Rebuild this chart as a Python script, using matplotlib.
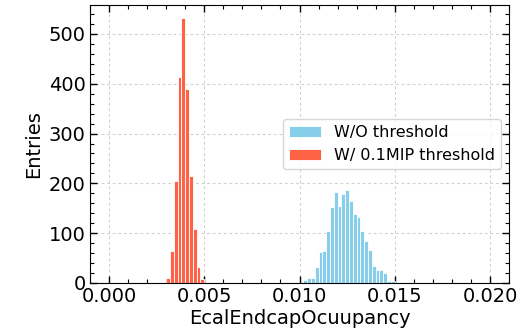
import numpy as np
import matplotlib
matplotlib.use("Agg")
import matplotlib.pyplot as plt
from matplotlib.ticker import MultipleLocator

bin_width = 0.0002

# W/O threshold (blue)
blue_start = 0.0102
blue_counts = [7, 10, 10, 33, 63, 65, 104, 153, 182, 155, 178, 186,
               165, 139, 132, 105, 85, 67, 35, 26, 26, 20, 5, 5]

# W/ 0.1MIP threshold (red)
red_start = 0.0030
red_counts = [11, 64, 204, 413, 532, 390, 215, 109, 32, 9]

labels = ["W/O threshold", "W/ 0.1MIP threshold"]
xticks = [0.000, 0.005, 0.010, 0.015, 0.020]
yticks = [0, 100, 200, 300, 400, 500]

def edges_for(start, n):
    return start + bin_width * np.arange(n + 1)

blue_edges = edges_for(blue_start, len(blue_counts))
red_edges = edges_for(red_start, len(red_counts))
blue_centers = 0.5 * (blue_edges[:-1] + blue_edges[1:])
red_centers = 0.5 * (red_edges[:-1] + red_edges[1:])

fig = plt.figure(figsize=(5.30, 3.29), dpi=100)
ax = fig.add_axes([90/530, 1-283/329, (509-90)/530, (283-5)/329])

ax.hist(blue_centers, bins=blue_edges, weights=blue_counts, color="#87CEEB",
        edgecolor="white", linewidth=0.6, label=labels[0], zorder=2)
ax.hist(red_centers, bins=red_edges, weights=red_counts, color="#FF6347",
        edgecolor="white", linewidth=0.6, label=labels[1], zorder=2)

ax.set_xlim(-0.001, 0.021)
ax.set_ylim(0, 558)
ax.set_xticks(xticks)
ax.set_yticks(yticks)
ax.xaxis.set_minor_locator(MultipleLocator(0.001))
ax.yaxis.set_minor_locator(MultipleLocator(20))
ax.tick_params(which="both", direction="in", top=True, right=True, labelsize=14)
ax.tick_params(which="major", length=5, width=1, pad=3)
ax.tick_params(which="minor", length=3, width=0.8)
ax.grid(True, which="major", linestyle=(0, (2.5, 2.5)), color="#d0d0d0", linewidth=0.8, zorder=0)
ax.set_axisbelow(True)
ax.set_xlabel("EcalEndcapOcuupancy", fontsize=14, labelpad=2)
ax.set_ylabel("Entries", fontsize=14)
ax.legend(loc="center right", fontsize=11.5)

fig.savefig("out.png", dpi=100)
